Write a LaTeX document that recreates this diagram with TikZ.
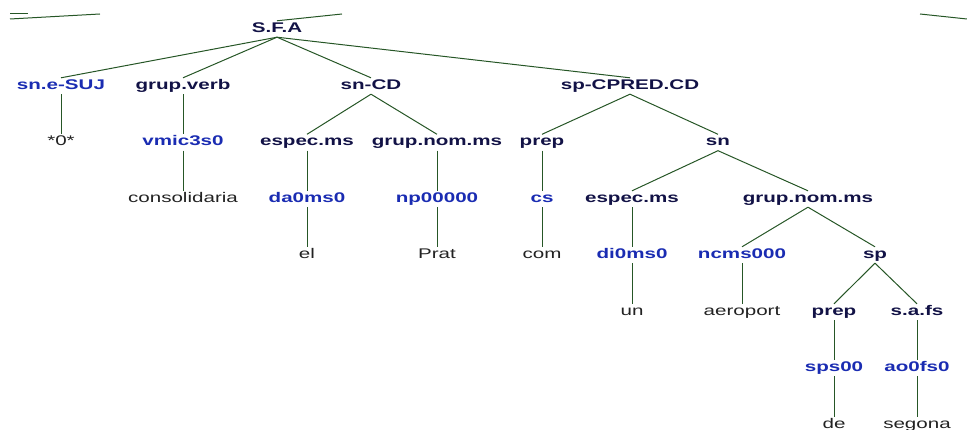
\documentclass[tikz,border=0pt]{standalone}
\usepackage{fontspec}
\usepackage{xcolor}
\usepackage{tikz}
\newfontfamily\treefont[FakeStretch=1.47]{Liberation Sans}
\definecolor{ntcol}{RGB}{18,18,70}
\definecolor{ptcol}{RGB}{26,44,178}
\definecolor{wdcol}{RGB}{34,34,34}
\definecolor{edgecol}{RGB}{38,86,38}

\begin{document}
\begin{tikzpicture}[x=1pt, y=-1pt,
    lab/.style={inner sep=0pt, minimum height=16pt, text height=10pt, text depth=3pt, font=\treefont\fontsize{14}{16}\selectfont},
    nt/.style={lab, text=ntcol, font=\treefont\bfseries\fontsize{14}{16}\selectfont},
    pt/.style={lab, text=ptcol, font=\treefont\bfseries\fontsize{14}{16}\selectfont},
    wd/.style={lab, text=wdcol},
    edge/.style={draw=edgecol, line width=1pt}
]
\useasboundingbox (0,0) rectangle (967,430);

% top level
\node[nt] (sfa) at (277,29) {S.F.A};

\node[pt] (snesuj) at (61,86) {sn.e-SUJ};
\node[nt] (grupverb) at (183,86) {grup.verb};
\node[nt] (sncd) at (371,86) {sn-CD};
\node[nt] (spcpred) at (630,86) {sp-CPRED.CD};

\node[wd] (zero) at (61,142.5) {*0*};
\node[pt] (vmic) at (183,142.5) {vmic3s0};
\node[nt] (especa) at (307,142.5) {espec.ms};
\node[nt] (grupnoma) at (437,142.5) {grup.nom.ms};
\node[nt] (prepa) at (542,142.5) {prep};
\node[nt] (snb) at (718,142.5) {sn};

\node[wd] (consol) at (183,199) {consolidaria};
\node[pt] (da) at (307,199) {da0ms0};
\node[pt] (np) at (437,199) {np00000};
\node[pt] (cs) at (542,199) {cs};
\node[nt] (especb) at (632,199) {espec.ms};
\node[nt] (grupnomb) at (808,199) {grup.nom.ms};

\node[wd] (el) at (307,255) {el};
\node[wd] (prat) at (437,255) {Prat};
\node[wd] (com) at (542,255) {com};
\node[pt] (di) at (632,255) {di0ms0};
\node[pt] (ncms) at (742,255) {ncms000};
\node[nt] (sp) at (875,255) {sp};

\node[wd] (un) at (632,312) {un};
\node[wd] (aeroport) at (742,312) {aeroport};
\node[nt] (prepb) at (834,312) {prep};
\node[nt] (safs) at (917,312) {s.a.fs};

\node[pt] (sps) at (834,368) {sps00};
\node[pt] (ao) at (917,368) {ao0fs0};

\node[wd] (de) at (834,425) {de};
\node[wd] (segona) at (917,425) {segona};

% cut-off branches at the top
\coordinate (upa) at (10,14);
\coordinate (upb) at (28,14);
\coordinate (upc) at (10,19);
\coordinate (upd) at (100,14);
\coordinate (upe) at (342,14);
\coordinate (upf) at (920,14);
\coordinate (upg) at (967,19);
\draw[edge] (upa) -- (upb);
\draw[edge] (upc) -- (upd);
\draw[edge] (sfa.north) -- (upe);
\draw[edge] (upf) -- (upg);

% branches
\draw[edge] (sfa.south) -- (snesuj.north);
\draw[edge] (sfa.south) -- (grupverb.north);
\draw[edge] (sfa.south) -- (sncd.north);
\draw[edge] (sfa.south) -- (spcpred.north);
\draw[edge] (snesuj) -- (zero);
\draw[edge] (grupverb) -- (vmic);
\draw[edge] (vmic) -- (consol);
\draw[edge] (sncd.south) -- (especa.north);
\draw[edge] (sncd.south) -- (grupnoma.north);
\draw[edge] (especa) -- (da);
\draw[edge] (da) -- (el);
\draw[edge] (grupnoma) -- (np);
\draw[edge] (np) -- (prat);
\draw[edge] (spcpred.south) -- (prepa.north);
\draw[edge] (spcpred.south) -- (snb.north);
\draw[edge] (prepa) -- (cs);
\draw[edge] (cs) -- (com);
\draw[edge] (snb.south) -- (especb.north);
\draw[edge] (snb.south) -- (grupnomb.north);
\draw[edge] (especb) -- (di);
\draw[edge] (di) -- (un);
\draw[edge] (grupnomb.south) -- (ncms.north);
\draw[edge] (grupnomb.south) -- (sp.north);
\draw[edge] (ncms) -- (aeroport);
\draw[edge] (sp.south) -- (prepb.north);
\draw[edge] (sp.south) -- (safs.north);
\draw[edge] (prepb) -- (sps);
\draw[edge] (sps) -- (de);
\draw[edge] (safs) -- (ao);
\draw[edge] (ao) -- (segona);

\end{tikzpicture}
\end{document}
